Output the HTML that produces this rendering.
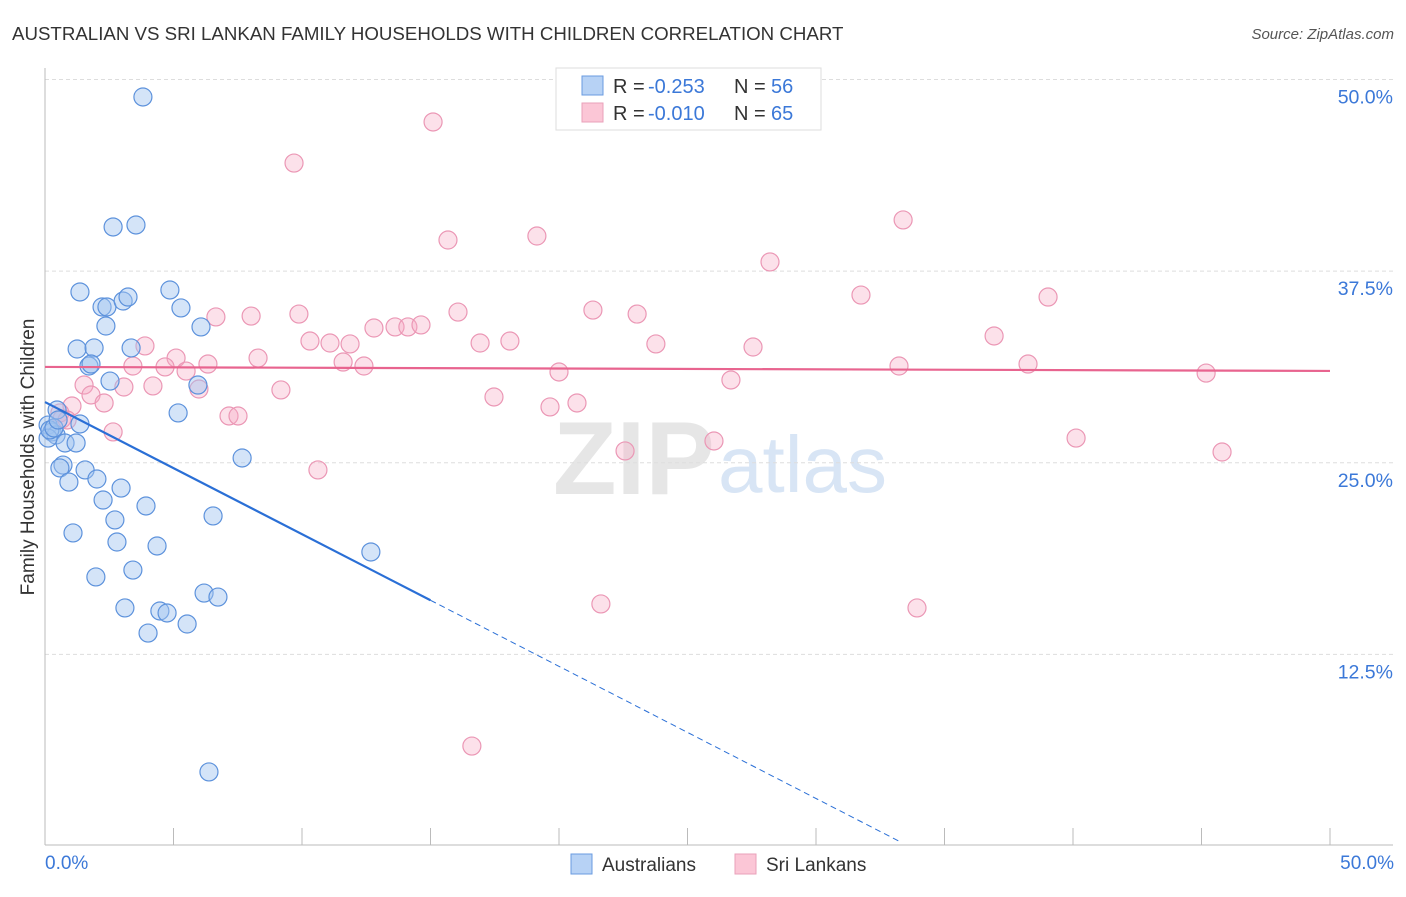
<!DOCTYPE html>
<html><head><meta charset="utf-8"><style>
body{margin:0;background:#fff;font-family:"Liberation Sans",sans-serif}
svg text{font-family:"Liberation Sans",sans-serif}
</style></head><body>
<svg id="c" width="1406" height="892" xmlns="http://www.w3.org/2000/svg">
<text x="12" y="40" font-size="18.7" fill="#333">AUSTRALIAN VS SRI LANKAN FAMILY HOUSEHOLDS WITH CHILDREN CORRELATION CHART</text>
<text x="1394" y="39" font-size="15" fill="#555" text-anchor="end" font-style="italic">Source: ZipAtlas.com</text>
<g>
<text x="553" y="494" font-size="104" fill="#e6e6e6" font-family="Liberation Serif" font-weight="bold">ZIP</text>
<text x="718" y="492" font-size="80" fill="#d8e5f5">atlas</text>
</g>
<g id="grid"></g><g id="axes"></g><g id="pts"></g><g id="trend"></g>
<text transform="translate(34,457) rotate(-90)" font-size="19" fill="#333" text-anchor="middle">Family Households with Children</text>
<text x="45" y="869" font-size="19" fill="#3b78d8">0.0%</text>
<text x="1394" y="869" font-size="19" fill="#3b78d8" text-anchor="end">50.0%</text>
<g>
<rect x="556" y="68" width="265" height="62" fill="#fff" stroke="#ddd"/>
<rect x="582" y="76" width="21" height="19" fill="#b7d2f5" stroke="#6a9be0"/>
<rect x="582" y="103" width="21" height="19" fill="#fbc6d6" stroke="#eaa0ba"/>
<text x="613" y="93" font-size="20" fill="#333">R =</text>
<text x="648" y="93" font-size="20" fill="#3b78d8">-0.253</text>
<text x="734" y="93" font-size="20" fill="#333">N =</text>
<text x="771" y="93" font-size="20" fill="#3b78d8">56</text>
<text x="613" y="120" font-size="20" fill="#333">R =</text>
<text x="648" y="120" font-size="20" fill="#3b78d8">-0.010</text>
<text x="734" y="120" font-size="20" fill="#333">N =</text>
<text x="771" y="120" font-size="20" fill="#3b78d8">65</text>
</g>
<g>
<rect x="571" y="854" width="21" height="20" fill="#b7d2f5" stroke="#6a9be0"/>
<text x="602" y="871" font-size="19" fill="#333">Australians</text>
<rect x="735" y="854" width="21" height="20" fill="#fbc6d6" stroke="#eaa0ba"/>
<text x="766" y="871" font-size="19" fill="#333">Sri Lankans</text>
</g>
</svg>
<script>
const yTicks=[50,37.5,25,12.5];
const yTickLabels=["50.0%","37.5%","25.0%","12.5%"];
const xTicks=[0,5,10,15,20,25,30,35,40,45,50];
const ausX=[3.81,2.65,3.54,1.36,4.86,2.22,2.41,3.04,3.23,5.29,2.37,6.07,1.25,1.91,3.35,1.71,1.79,2.53,5.95,5.18,0.47,1.36,0.12,0.27,0.43,0.78,1.21,0.12,7.67,0.70,0.58,1.56,2.02,0.93,2.96,2.26,3.93,6.54,2.72,1.09,2.80,4.36,12.68,3.42,1.98,6.19,6.73,3.11,4.47,4.75,5.53,4.01,6.38,0.19,0.35,0.51];
const ausY=[48.86,40.38,40.51,36.14,36.27,35.16,35.16,35.55,35.81,35.10,33.92,33.86,32.42,32.49,32.49,31.31,31.44,30.33,30.07,28.25,28.44,27.53,27.46,27.01,26.81,26.29,26.29,26.61,25.31,24.85,24.66,24.53,23.94,23.74,23.35,22.57,22.18,21.53,21.27,20.42,19.83,19.57,19.18,18.00,17.55,16.50,16.24,15.53,15.33,15.20,14.48,13.89,4.83,27.14,27.27,27.79];
const sriX=[15.10,9.69,33.39,15.68,19.14,28.21,31.75,39.03,6.65,8.02,9.88,16.07,21.32,23.04,36.93,12.80,13.62,14.12,14.63,10.31,11.09,11.87,16.93,18.09,3.89,23.77,27.55,8.29,5.10,6.34,11.60,12.41,3.42,4.67,5.49,20.00,33.23,38.25,45.18,26.69,1.52,3.07,4.20,5.99,9.18,17.47,1.79,2.30,19.65,20.70,1.05,7.16,7.51,0.58,0.66,0.86,2.65,26.03,40.12,22.57,45.80,10.62,21.63,33.93,16.61];
const sriY=[47.23,44.55,40.84,39.53,39.79,38.10,35.94,35.81,34.51,34.57,34.70,34.83,34.96,34.70,33.27,33.79,33.86,33.86,33.99,32.94,32.81,32.75,32.81,32.94,32.62,32.75,32.55,31.83,31.83,31.44,31.57,31.31,31.31,31.25,30.98,30.92,31.31,31.44,30.85,30.40,30.07,29.94,30.01,29.81,29.75,29.29,29.42,28.90,28.64,28.90,28.70,28.05,28.05,28.25,27.86,27.79,27.01,26.42,26.61,25.77,25.70,24.53,15.79,15.53,6.52];
const ausTrend=[28.96,-0.862];
const sriTrend=[31.25,-0.0052];
const ausSolidEnd=15, ausDashEnd=33.3;
const X=v=>45+v*25.7, Y=v=>846-v*15.33;
const NS="http://www.w3.org/2000/svg";
function mk(p,t,a){const e=document.createElementNS(NS,t);for(const k in a)e.setAttribute(k,a[k]);p.appendChild(e);return e;}
const grid=document.getElementById('grid'),axes=document.getElementById('axes'),pts=document.getElementById('pts'),tr=document.getElementById('trend');
yTicks.forEach((t,i)=>{
 const l=mk(grid,'line',{x1:45,x2:1393,y1:Y(t),y2:Y(t),stroke:'#ddd','stroke-dasharray':'4 3'});
 
 
 const tx=mk(grid,'text',{x:1393,y:Y(t)+24,'font-size':19.5,fill:'#3b78d8','text-anchor':'end'});
 tx.textContent=yTickLabels[i];
 
 
});
let a=mk(axes,'line',{x1:45,x2:45,y1:68,y2:845,stroke:'#bbb'});


a=mk(axes,'line',{x1:45,x2:1393,y1:845,y2:845,stroke:'#bbb'});


xTicks.forEach(t=>{const l=mk(axes,'line',{x1:X(t),x2:X(t),y1:828,y2:845,stroke:'#bbb'});
 
 });
sriX.forEach((v,i)=>{const c=mk(pts,'circle',{cx:X(v),cy:Y(sriY[i]),r:9,fill:'rgba(246,168,196,0.35)',stroke:'#eb97b5','stroke-width':1.2});
 
 });
ausX.forEach((v,i)=>{const c=mk(pts,'circle',{cx:X(v),cy:Y(ausY[i]),r:9,fill:'rgba(160,196,240,0.45)',stroke:'#5d92dc','stroke-width':1.2});
 
 });
const fa=x=>ausTrend[0]+ausTrend[1]*x, fs=x=>sriTrend[0]+sriTrend[1]*x;
let t=mk(tr,'line',{x1:X(0),y1:Y(fa(0)),x2:X(ausSolidEnd),y2:Y(fa(ausSolidEnd)),stroke:'#2a6fd6','stroke-width':2.2});


t=mk(tr,'line',{x1:X(ausSolidEnd),y1:Y(fa(ausSolidEnd)),x2:X(ausDashEnd),y2:Y(fa(ausDashEnd)),stroke:'#2a6fd6','stroke-width':1,'stroke-dasharray':'6 4'});


t=mk(tr,'line',{x1:X(0),y1:Y(fs(0)),x2:X(50),y2:Y(fs(50)),stroke:'#e8648f','stroke-width':2.2});


</script>
</body></html>
